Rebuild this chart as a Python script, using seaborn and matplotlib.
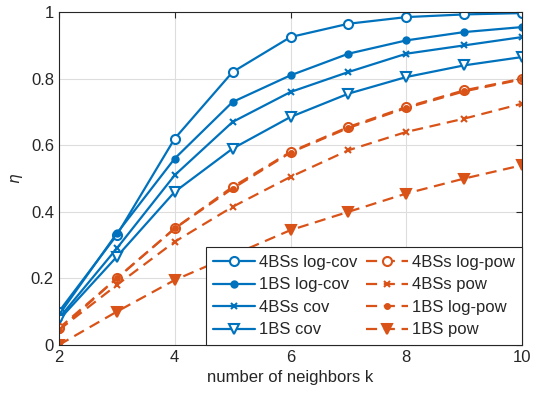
import numpy as np
import pandas as pd
import matplotlib
matplotlib.use("Agg")
import matplotlib.pyplot as plt
import seaborn as sns

# dados
k = [2, 3, 4, 5, 6, 7, 8, 9, 10]
bs4_logcov = [0.10, 0.33, 0.62, 0.82, 0.925, 0.965, 0.985, 0.993, 0.997]
bs1_logcov = [0.09, 0.335, 0.56, 0.73, 0.81, 0.875, 0.915, 0.94, 0.955]
bs4_cov = [0.08, 0.29, 0.51, 0.67, 0.76, 0.82, 0.875, 0.90, 0.925]
bs1_cov = [0.075, 0.265, 0.46, 0.59, 0.685, 0.755, 0.805, 0.84, 0.865]
bs4_logpow = [0.05, 0.20, 0.35, 0.475, 0.58, 0.655, 0.715, 0.765, 0.80]
bs4_pow = [0.045, 0.18, 0.31, 0.415, 0.505, 0.585, 0.64, 0.68, 0.725]
bs1_logpow = [0.045, 0.20, 0.35, 0.47, 0.578, 0.652, 0.712, 0.762, 0.798]
bs1_pow = [0.0, 0.10, 0.195, 0.27, 0.345, 0.40, 0.455, 0.50, 0.54]

labels = ["4BSs log-cov", "1BS log-cov", "4BSs cov", "1BS cov",
          "4BSs log-pow", "4BSs pow", "1BS log-pow", "1BS pow"]
series = [bs4_logcov, bs1_logcov, bs4_cov, bs1_cov,
          bs4_logpow, bs4_pow, bs1_logpow, bs1_pow]

azul = "#0072BD"
laranja = "#D95319"

estilos = [
    dict(color=azul, marker="o", mfc="white", ms=6.5, ls="-"),
    dict(color=azul, marker="o", mfc=azul, ms=4.5, ls="-"),
    dict(color=azul, marker="x", mfc=azul, ms=4.5, ls="-"),
    dict(color=azul, marker="v", mfc="white", ms=7, ls="-"),
    dict(color=laranja, marker="o", mfc="white", ms=6.5, ls="--"),
    dict(color=laranja, marker="x", mfc=laranja, ms=4.5, ls="--"),
    dict(color=laranja, marker="o", mfc=laranja, ms=3.5, ls="--"),
    dict(color=laranja, marker="v", mfc=laranja, ms=7, ls="--"),
]

sns.set_style("white")
plt.rcParams["font.family"] = ["Liberation Sans", "DejaVu Sans"]

fig = plt.figure(figsize=(5.4, 4.03), dpi=100)
ax = fig.add_axes([0.109, 0.144, 0.858, 0.826])

for lab, vals, st in zip(labels, series, estilos):
    df = pd.DataFrame({"k": k, "eta": vals})
    sns.lineplot(data=df, x="k", y="eta", ax=ax, label=lab, color=st["color"],
                 marker=st["marker"], markerfacecolor=st["mfc"],
                 markeredgecolor=st["color"], markeredgewidth=1.5,
                 markersize=st["ms"], linewidth=1.6, linestyle=st["ls"])

for line in ax.get_lines()[4:]:
    line.set_dashes((5, 3))

ax.set_xlim(2, 10)
ax.set_ylim(0, 1)
ax.set_xticks([2, 4, 6, 8, 10])
ax.set_yticks([0, 0.2, 0.4, 0.6, 0.8, 1])
ax.set_yticklabels(["0", "0.2", "0.4", "0.6", "0.8", "1"])
ax.grid(True, color="#dddddd", linewidth=0.8)
ax.tick_params(direction="in", top=True, right=True, labelsize=12, length=4,
               color="#262626", labelcolor="#262626")
for s in ax.spines.values():
    s.set_color("#262626")
    s.set_linewidth(0.8)
ax.set_xlabel("number of neighbors k", fontsize=12, color="#262626")
ax.set_ylabel(r"$\eta$", fontsize=11, color="#262626")

leg = ax.legend(ncol=2, loc="lower right", borderaxespad=0, fontsize=12,
                handlelength=2.5, columnspacing=0.5, handletextpad=0.25,
                labelspacing=0.45, fancybox=False, framealpha=1,
                edgecolor="#262626", borderpad=0.45)
leg.get_frame().set_linewidth(0.8)
for h in leg.get_lines()[4:]:
    h.set_dashes((5, 3))

plt.savefig("out.png", dpi=100)
plt.close()
